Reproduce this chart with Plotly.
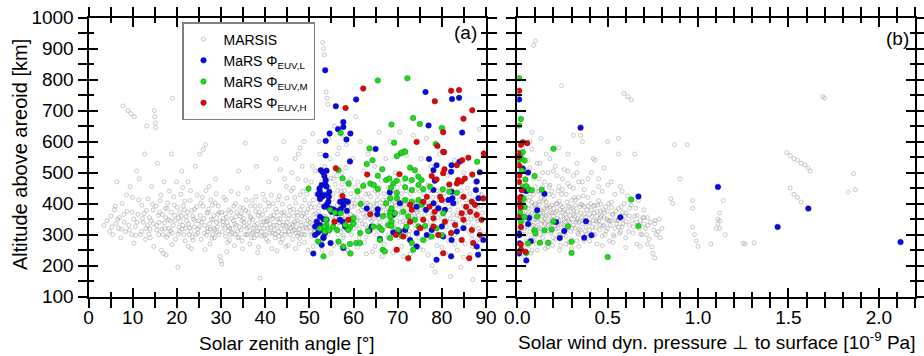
import plotly.graph_objects as go

# ---------------- data ----------------
# MARSIS observations, panel (a): (solar zenith angle [deg], altitude [km])
marsis_a = [
(3.5,330),(4.2,345),(4.8,310),(5.1,360),(5.5,300),(5.9,380),(6.2,335),(6.4,470),(6.8,320),(7.0,355),
(7.3,290),(7.6,400),(7.8,715),(8.1,340),(8.4,310),(8.7,375),(8.9,700),(9.1,330),(9.4,455),(9.6,690),
(9.8,300),(10.0,420),(10.2,350),(10.4,680),(10.6,325),(10.9,505),(11.2,365),(11.5,480),(11.8,300),(12.1,395),
(12.4,340),(12.7,560),(13.0,320),(13.2,650),(13.5,415),(13.8,355),(14.0,290),(14.3,455),(14.6,380),(14.9,700),
(15.0,680),(15.1,660),(15.2,645),(15.4,330),(15.6,530),(15.9,300),(16.2,410),(16.5,250),(16.7,365),(16.9,240),
(17.1,470),(17.3,320),(17.6,235),(17.8,385),(18.0,300),(18.3,440),(18.5,345),(18.8,560),(19.0,740),(19.2,330),
(19.4,395),(19.7,285),(19.9,470),(20.2,195),(20.4,355),(20.6,310),(20.9,430),(21.1,505),(21.4,330),(21.7,380),
(21.9,280),(22.2,345),(22.5,470),(22.8,300),(23.0,410),(23.3,255),(23.6,360),(23.9,325),(24.2,520),(24.5,390),
(24.7,305),(25.0,345),(25.2,560),(25.5,285),(25.8,420),(26.0,575),(26.3,330),(26.5,590),(26.8,370),(27.0,310),
(27.3,455),(27.5,270),(27.8,350),(28.0,395),(28.3,320),(28.5,290),(28.8,480),(29.0,340),(29.3,365),(29.5,300),
(29.8,230),(30.0,215),(30.2,205),(30.5,330),(30.7,420),(31.0,295),(31.2,355),(31.5,275),(31.8,380),(32.0,320),
(32.3,440),(32.5,305),(32.8,345),(33.0,265),(33.3,400),(33.5,330),(33.8,290),(34.0,505),(34.3,360),(34.5,315),
(34.8,280),(35.0,385),(35.2,340),(35.5,595),(35.8,300),(36.0,450),(36.3,325),(36.5,270),(36.8,355),(37.0,410),
(37.3,310),(37.5,290),(37.8,375),(38.0,520),(38.2,335),(38.5,260),(38.8,160),(39.0,350),(39.2,295),(39.5,430),
(39.8,320),(40.0,380),(40.3,285),(40.5,345),(40.8,470),(41.0,305),(41.3,360),(41.5,255),(41.8,400),(42.0,330),
(42.3,290),(42.5,545),(42.8,350),(43.0,310),(43.2,425),(43.5,275),(43.8,370),(44.0,330),(44.2,600),(44.5,300),
(44.8,455),(45.0,340),(45.2,265),(45.5,390),(45.7,320),(46.0,500),(46.2,285),(46.5,360),(46.7,420),(47.0,305),
(47.2,345),(47.5,560),(47.7,270),(48.0,380),(48.2,330),(48.5,440),(48.7,300),(49.0,355),(49.2,475),(49.5,320),
(49.7,250),(50.0,400),(50.2,340),(50.5,295),(50.7,520),(51.0,365),(51.2,310),(51.5,430),(51.7,280),(52.0,350),
(52.2,600),(52.5,330),(52.7,470),(53.0,920),(53.2,900),(53.4,880),(53.6,300),(53.8,760),(54.0,740),(54.2,720),
(54.5,380),(54.7,545),(55.0,320),(55.2,415),(55.5,265),(55.7,650),(56.0,355),(56.2,490),(56.5,300),(56.7,580),
(57.0,340),(57.2,440),(57.5,620),(57.7,290),(58.0,375),(58.2,515),(58.5,330),(58.7,250),(59.0,460),(59.3,365),
(45.3,310),(46.3,330),(47.3,295),(48.3,360),(49.3,335),(50.3,310),(51.3,345),(52.3,395),(53.3,360),(54.3,420),
(55.3,340),(56.3,395),(57.3,360),(58.3,410),(59.5,300),
(59.8,545),(60.0,320),(60.3,400),(60.5,680),(60.8,355),(61.0,470),(61.3,290),(61.5,600),(61.8,380),(62.0,335),
(62.3,505),(62.5,275),(62.8,430),(63.0,360),(63.3,560),(63.5,310),(63.8,395),(64.0,460),(64.3,245),(64.5,350),
(64.8,520),(65.0,380),(65.3,300),(65.5,430),(65.8,630),(66.0,340),(66.3,475),(66.5,230),(66.8,390),(67.0,325),
(67.3,545),(67.5,410),(67.8,290),(68.0,360),(68.3,600),(68.5,440),(68.8,315),(69.0,380),(69.3,255),(69.5,500),
(69.8,345),(70.0,420),(70.3,290),(70.5,630),(70.8,370),(71.0,465),(71.3,230),(71.5,395),(71.8,335),(72.0,555),
(72.3,410),(72.5,300),(72.8,470),(73.0,360),(73.3,265),(73.5,620),(73.8,400),(74.0,330),(74.3,490),(74.5,380),
(74.8,290),(75.0,440),(75.3,545),(75.5,350),(75.8,250),(76.0,400),(76.3,320),(76.5,610),(76.8,460),(77.0,370),
(77.3,290),(77.5,520),(77.8,200),(78.0,420),(78.3,345),(78.5,180),(78.8,480),(79.0,390),(79.3,300),(79.5,560),
(79.8,430),(80.0,260),(80.3,355),(80.5,640),(80.8,405),(81.0,325),(81.3,490),(81.5,280),(81.8,380),(82.0,165),
(82.3,445),(82.5,340),(82.8,540),(83.0,300),(83.3,400),(83.5,250),(83.8,470),(84.0,360),(84.3,195),(84.5,420),
(84.8,320),(85.0,500),(85.3,270),(85.5,385),(85.8,450),(86.0,340),(86.3,235),(86.5,410),(86.8,300),(87.0,155),
(87.3,360),(87.5,470),(87.8,280),(88.0,390),(88.3,320),(88.5,640),(88.8,250),(89.0,430),(89.3,350),(89.6,300),
(5.3,325),(6.6,350),(8.0,365),(9.3,315),(11.0,340),(12.0,310),(13.4,330),(14.2,345),(15.5,315),(16.0,340),
(16.8,300),(17.5,355),(18.2,320),(19.0,305),(19.6,345),(20.5,325),(21.0,360),(21.6,300),(22.0,320),(22.7,335),
(23.2,310),(23.8,350),(24.3,300),(25.1,325),(25.6,340),(26.2,305),(26.9,320),(27.4,335),(28.1,300),(28.6,315),
(29.2,325),(29.7,345),(30.3,310),(30.9,325),(31.4,340),(32.1,300),(32.6,320),(33.1,335),(33.7,310),(34.2,325),
(34.7,345),(35.4,300),(35.9,320),(36.4,340),(37.1,305),(37.6,330),(38.1,300),(38.6,320),(39.1,310),(39.6,340),
(40.1,300),(40.6,320),(41.1,335),(41.6,305),(42.1,315),(42.6,330),(43.1,295),(43.6,320),(44.1,340),(44.6,310),
(45.1,325),(45.6,300),(46.1,335),(46.6,315),(47.1,325),(47.6,305),(48.1,340),(48.6,320),(49.1,300),(49.6,345),
(50.1,325),(50.6,335),(51.1,320),(51.6,300),(52.1,375),(52.6,345),(53.1,320),(53.7,390),(54.1,340),(54.6,310),
(55.1,360),(55.6,380),(56.1,330),(56.6,405),(57.1,310),(57.6,350),(58.1,325),(58.6,370),(59.1,340),(59.6,390),
(60.1,360),(60.6,330),(61.1,375),(61.6,345),(62.1,390),(62.6,355),(63.1,320),(63.6,375),(64.1,345),(64.6,400),
(65.1,360),(65.6,330),(66.1,380),(66.6,355),(67.1,395),(67.6,340),(68.1,375),(68.6,350),(69.1,330),(69.6,395),
(70.1,365),(70.6,340),(71.1,380),(71.6,355),(72.1,325),(72.6,385),(73.1,340),(73.6,370),(74.1,355),(74.6,330),
(75.1,380),(75.6,320),(76.1,365),(76.6,340),(77.1,395),(77.6,330),(78.1,370),(78.6,310),(79.1,355),(79.6,385),
(80.1,330),(80.6,370),(81.1,345),(81.6,390),(82.1,310),(82.6,365),(83.1,340),(83.6,380),(84.1,320),(84.6,355),
(85.1,330),(85.6,370),(86.1,310),(86.6,350),(87.1,325),(87.6,380),(88.1,345),(88.6,310),(89.1,370),
(50.4,470),(51.4,505),(52.4,560),(53.5,520),(54.4,610),(55.4,480),(56.4,560),(57.4,500),(58.4,590),(59.4,480),
(46.4,450),(47.4,480),(48.4,520),(49.4,430),(44.4,480),(43.4,510),(46.8,545),(48.8,600),(50.8,625),(47.9,580),
(6.1,392),(7.4,318),(8.6,428),(9.9,372),(10.7,298),(11.4,412),(12.6,368),(13.7,302),(14.5,398),(15.8,362),
(16.4,428),(17.2,338),(17.9,402),(18.7,372),(19.3,422),(20.1,388),(20.8,342),(21.3,452),(21.8,408),(22.4,372),
(23.1,442),(23.5,292),(24.0,382),(24.6,428),(25.3,362),(25.9,392),(26.6,442),(27.1,372),(27.7,412),(28.4,362),
(28.9,432),(29.4,392),(30.1,372),(30.6,352),(31.1,412),(31.6,312),(32.2,372),(32.9,392),(33.4,358),(33.9,432),
(34.4,388),(35.1,352),(35.7,412),(36.2,372),(36.7,392),(37.2,348),(37.9,422),(38.4,362),(38.9,392),(39.4,365),
(39.9,412),(40.4,352),(40.9,392),(41.4,428),(41.9,362),(42.4,382),(42.9,412),(43.3,352),(43.9,398),(44.3,372),
(44.9,418),(45.4,362),(45.9,442),(46.4,382),(46.9,402),(47.4,362),(47.9,428),(48.4,392),(48.9,412),(49.4,372),
(49.9,452),(50.4,388),(50.9,412),(51.4,368),(51.9,442),(52.4,420),(52.9,455),(53.4,432),(53.9,472),(54.4,452),
(54.9,482),(55.4,432),(55.9,462),(56.4,442),(56.9,422),(57.4,462),(57.9,442),(58.4,472),(58.9,402),(59.4,432),
(59.9,412),(60.4,452),(60.9,422),(61.4,442),(61.9,412),(62.4,462),(62.9,402),(63.4,432),(63.9,422),(64.4,382),
(64.9,442),(65.4,412),(65.9,452),(66.4,402),(66.9,432),(67.4,372),(67.9,452),(68.4,412),(68.9,432),(69.4,402),
(69.9,452),(70.4,392),(70.9,432),(71.4,412),(71.9,442),(72.4,362),(72.9,432),(73.4,402),(73.9,442),(74.4,372),
(74.9,412),(75.4,452),(75.9,432),(76.4,392),(76.9,412),(77.4,442),(77.9,362),(78.4,402),(78.9,442),(79.4,412),
(79.9,372),(80.4,432),(80.9,452),(81.4,412),(81.9,352),(82.4,402),(82.9,432),(83.4,362),(83.9,412),(84.4,442),
(84.9,392),(85.4,412),(85.9,362),(86.4,432),(86.9,392),(87.4,412),(87.9,352),(88.4,432),(88.9,392),(89.4,412),
(10.3,272),(14.8,262),(18.9,268),(22.6,262),(26.4,252),(31.3,245),(34.9,255),(38.3,242),(42.7,248),(44.7,262),
(46.9,255),(48.9,275),(50.9,262),(52.9,250),(54.9,240),(56.9,268),(58.9,245),(60.9,258),(62.9,238),(64.9,262),
(66.9,270),(68.9,242),(70.9,262),(72.9,238),(74.9,258),(76.9,235),(78.9,265),(80.9,240),(82.9,268),(84.9,228),
(86.9,262),(88.9,282),(12.9,285),(17.7,292),(23.7,282),(27.9,288),(31.9,282),(36.9,290),(40.7,278),(43.9,285),
(47.8,288),(52.8,282),(57.8,298),(62.8,292),(67.8,298),(71.8,302),(76.8,288),(81.8,298),(86.8,285),
(12.2,352),(13.1,378),(13.9,318),(14.7,335),(15.3,392),(16.1,372),(16.6,318),(17.4,385),(18.1,348),(18.6,312),
(19.5,362),(20.3,302),(20.7,372),(21.2,318),(21.5,392),(22.1,358),(22.9,322),(23.4,378),(24.1,345),(24.8,318),
(25.4,402),(26.1,352),(26.7,298),(27.2,382),(27.6,318),(28.2,348),(28.7,402),(29.1,308),(29.6,372),(30.4,342),
(31.0,368),(31.7,328),(32.4,352),(33.2,302),(33.6,372),(34.1,292),(34.6,368),(35.3,328),(35.6,378),(36.1,302),
(36.6,358),(37.4,322),(37.7,392),(38.3,312),(38.7,372),(39.3,332),(39.7,298),(40.2,342),(40.7,402),(41.2,322),
(41.7,352),(42.2,302),(42.7,372),(43.2,338),(43.7,302),(44.2,362),(44.7,328),(45.2,352),(45.7,378),(46.2,312),
(46.7,342),(47.2,372),(47.7,318),(48.2,302),(48.7,368),(49.2,322),(49.7,382),(50.2,352),(50.7,302),(51.2,388),
(51.7,322),(52.2,312),(52.7,402),(53.2,338),(53.7,358),(54.2,302),(54.7,392),(55.2,318),(55.7,348),(56.2,372),
(56.7,338),(57.2,392),(57.7,318),(58.2,352),(58.7,388),(59.2,318),(59.7,362),(60.2,392),(60.7,348),(61.2,318),
(61.7,402),(62.2,368),(62.7,332),(63.2,402),(63.7,352),(64.2,318),(64.7,372),(65.2,398),(65.7,352),(66.2,322),
(66.7,412),(67.2,362),(67.7,388),(68.2,328),(68.7,398),(69.2,362),(69.7,318),(70.2,408),(70.7,372),(71.2,342),
(71.7,398),(72.2,368),(72.7,312),(73.2,388),(73.7,348),(74.2,402),(74.7,362),
]

# MARSIS observations, panel (b): (dyn. pressure [1e-9 Pa], altitude [km])
marsis_b = [
(0.02,330),(0.03,300),(0.03,420),(0.04,360),(0.04,510),(0.05,280),(0.05,390),(0.06,340),(0.06,455),(0.07,310),
(0.07,600),(0.08,370),(0.08,250),(0.09,330),(0.09,480),(0.10,295),(0.10,400),(0.09,910),(0.10,925),(0.11,350),
(0.11,530),(0.12,320),(0.12,440),(0.13,275),(0.13,380),(0.14,345),(0.14,500),(0.15,305),(0.15,415),(0.16,360),
(0.16,560),(0.17,330),(0.17,260),(0.18,390),(0.18,460),(0.19,310),(0.19,350),(0.20,425),(0.20,290),(0.21,370),
(0.21,520),(0.22,335),(0.22,400),(0.23,300),(0.23,455),(0.24,360),(0.24,265),(0.25,390),(0.25,480),(0.26,320),
(0.26,350),(0.27,430),(0.27,295),(0.28,375),(0.28,505),(0.29,340),(0.30,410),(0.30,285),(0.31,365),(0.31,450),
(0.32,320),(0.32,395),(0.33,345),(0.33,530),(0.34,300),(0.34,420),(0.35,370),(0.35,620),(0.36,335),(0.36,470),
(0.37,390),(0.37,280),(0.38,355),(0.59,755),(0.39,420),(0.61,745),(0.40,315),(0.63,735),(0.41,380),(0.41,500),
(0.42,345),(0.42,435),(0.43,300),(0.43,395),(0.44,360),(0.44,270),(0.45,410),(0.45,480),(0.46,330),(0.46,375),
(0.47,440),(0.47,295),(0.48,355),(0.48,515),(0.49,390),(0.50,320),(0.50,460),(0.51,345),(0.51,280),(0.52,405),
(0.53,365),(0.53,300),(0.54,430),(0.55,335),(0.56,610),(0.56,385),(0.57,310),(0.57,455),(0.58,350),(0.59,400),
(0.60,290),(0.60,370),(0.61,425),(0.62,330),(0.63,395),(0.64,305),(0.65,360),(0.66,270),(0.67,410),(0.68,345),
(0.69,300),(0.70,380),(0.71,320),(0.72,355),(0.73,285),(0.745,260),(0.75,240),(0.76,225),(0.76,335),(0.77,300),
(0.78,310),(0.79,290),(0.80,320),
(0.01,350),(0.01,400),(0.02,460),(0.03,375),(0.04,320),(0.05,345),(0.05,430),(0.06,385),(0.07,355),(0.07,420),
(0.08,330),(0.08,405),(0.09,365),(0.10,350),(0.11,385),(0.11,315),(0.12,360),(0.12,405),(0.13,335),(0.13,420),
(0.14,375),(0.15,340),(0.15,385),(0.16,320),(0.16,405),(0.17,365),(0.18,335),(0.18,345),(0.19,395),(0.20,360),
(0.21,330),(0.22,375),(0.23,345),(0.24,395),(0.25,335),(0.26,380),(0.27,355),(0.28,325),(0.29,390),(0.30,350),
(0.31,330),(0.32,360),(0.33,375),(0.34,340),(0.35,315),(0.36,395),(0.38,325),(0.40,365),(0.42,300),(0.44,340),
(0.46,355),(0.48,330),(0.50,375),(0.52,345),(0.54,320),(0.56,350),(0.58,325),(0.62,360),(0.66,340),(0.70,335),
(0.05,500),(0.06,540),(0.08,575),(0.09,430),(0.12,480),(0.14,455),(0.17,500),(0.19,440),(0.22,490),(0.25,445),
(0.28,465),(0.31,490),(0.34,470),(0.37,445),(0.02,250),(0.04,230),(0.06,265),(0.09,280),(0.11,250),(0.14,290),
(0.18,275),(0.21,285),(0.24,300),(0.27,270),(0.30,255),(0.33,280),(0.03,580),(0.08,630),(0.13,610),(0.18,545),
(0.23,580),(0.28,560),(0.31,620),(0.36,600),(0.43,540),(0.50,600),(0.65,560),(0.245,780),(0.42,545),(0.56,560),
(0.015,380),(0.025,320),(0.035,440),(0.045,300),(0.055,365),(0.065,410),(0.075,290),(0.085,350),(0.095,395),(0.105,325),
(0.115,440),(0.125,300),(0.135,360),(0.145,410),(0.155,335),(0.165,385),(0.175,430),(0.185,305),(0.195,370),(0.205,340),
(0.215,400),(0.225,320),(0.235,380),(0.245,430),(0.255,300),(0.265,365),(0.275,405),(0.285,345),(0.295,310),(0.305,385),
(0.315,420),(0.325,340),(0.335,305),(0.345,390),(0.355,355),(0.365,425),(0.375,310),(0.385,380),(0.395,340),(0.405,400),
(0.415,325),(0.425,370),(0.435,345),(0.445,395),(0.455,315),(0.465,360),(0.475,380),(0.485,300),(0.495,350),(0.505,400),
(0.515,330),(0.525,365),(0.535,295),(0.545,375),(0.555,345),(0.565,305),(0.575,390),(0.585,335),(0.595,360),(0.615,310),
(0.635,345),(0.655,385),(0.675,320),(0.695,355),(0.715,300),(0.735,340),(0.755,315),(0.785,350),
(0.02,490),(0.045,470),(0.07,515),(0.10,455),(0.125,530),(0.15,470),(0.175,455),(0.20,505),(0.225,440),(0.26,510),
(0.29,455),(0.33,500),(0.39,480),(0.45,455),(0.52,470),(0.58,440),(0.035,265),(0.075,240),(0.105,270),(0.155,255),
(0.195,265),(0.235,250),(0.285,275),(0.34,262),(0.40,280),(0.47,265),(0.53,275),(0.60,258),(0.68,262),(0.72,270),
(0.012,320),(0.022,395),(0.032,345),(0.042,410),(0.052,325),(0.062,372),(0.072,338),(0.082,392),(0.092,312),(0.102,378),
(0.112,342),(0.122,398),(0.132,318),(0.142,368),(0.152,352),(0.162,392),(0.172,312),(0.182,372),(0.192,338),(0.202,385),
(0.212,318),(0.222,352),(0.232,408),(0.242,332),(0.252,372),(0.262,342),(0.272,318),(0.282,392),(0.292,362),(0.302,322),
(0.312,378),(0.322,412),(0.332,352),(0.342,318),(0.352,398),(0.362,345),(0.372,368),(0.382,302),(0.392,392),(0.402,338),
(0.412,358),(0.422,392),(0.432,322),(0.442,375),(0.452,345),(0.462,398),(0.472,328),(0.482,372),(0.492,312),(0.502,345),
(0.522,388),(0.542,348),(0.562,325),(0.582,372),(0.602,342),(0.622,385),(0.642,325),(0.662,362),(0.682,302),(0.702,355),
(0.722,330),(0.762,345),
(0.85,416),(0.86,400),(0.87,590),(0.90,480),(0.94,590),(0.97,385),(0.97,410),(0.97,325),(0.98,300),(0.99,280),
(1.00,262),(1.07,270),(1.10,320),(1.11,335),(1.11,350),(1.12,320),(1.12,345),(1.12,370),(1.14,410),(1.15,300),
(1.25,272),(1.26,270),(1.31,274),(1.49,565),(1.51,555),(1.53,545),(1.55,540),(1.57,530),(1.59,525),(1.61,515),
(1.62,505),(1.51,450),(1.53,430),(1.55,420),(1.57,405),(1.69,745),(1.70,740),(1.83,437),(1.86,497),(1.87,445),
]

# MaRS, low EUV flux (panel a): (SZA, altitude)
mars_L_a = [
(53.6,830),(60.6,736),(56.0,714),(57.7,663),(56.5,640),(57.7,647),(54.6,626),(59.3,626),(58.4,607),(53.7,602),
(65.0,576),(76.3,760),(82.3,737),(83.9,741),(77.0,652),(84.6,629),(53.7,555),(59.2,536),(52.6,508),(53.0,502),
(53.9,506),(53.4,489),(53.7,476),(52.8,460),(53.6,462),(53.9,455),(52.3,449),(52.4,438),(52.9,422),(52.4,415),
(53.5,428),(54.5,438),(54.4,422),(52.0,430),(57.0,406),(57.9,410),(58.7,406),(68.2,436),(54.3,406),(53.9,396),
(53.4,390),(54.5,385),(55.4,382),(55.0,374),(56.0,377),(56.2,369),(57.7,393),(57.1,382),(58.5,377),(63.0,384),
(65.5,382),(65.4,366),(52.4,358),(53.2,350),(53.9,348),(51.7,342),(51.3,326),(52.4,331),(52.8,315),(53.5,305),
(53.2,289),(52.0,307),(51.3,299),(52.8,267),(50.9,239),(53.2,292),(54.8,273),(57.7,257),(57.5,342),(58.1,326),
(56.9,348),(64.1,326),(66.0,286),(63.6,313),(69.0,307),(68.6,376),(77.1,544),(78.8,524),(82.2,524),(84.0,535),
(78.1,508),(82.1,503),(88.6,501),(78.4,474),(87.9,471),(78.1,444),(82.2,438),(82.4,417),(81.5,412),(78.1,401),
(87.7,444),(88.3,417),(70.5,401),(74.3,390),(76.4,380),(79.2,385),(80.7,380),(82.6,401),(69.0,364),(70.4,310),
(71.7,315),(74.3,305),(76.6,299),(77.7,315),(80.3,294),(80.0,326),(82.2,283),(83.4,310),(84.9,321),(87.9,262),
(89.4,283),(78.8,219),(82.1,230),(88.2,235),(72.8,283),(74.3,262),
]

# MaRS, medium EUV flux (panel a)
mars_M_a = [
(65.5,797),(72.2,804),(57.1,628),(68.6,655),(63.6,578),(69.2,596),(73.5,676),(75.0,657),(80.0,644),(78.6,592),
(71.5,568),(70.7,562),(56.6,508),(63.0,528),(64.3,540),(66.5,511),(57.5,482),(65.5,490),(67.4,476),(68.1,481),
(58.9,465),(62.2,457),(63.8,465),(64.6,460),(65.5,447),(49.8,448),(60.9,440),(68.3,417),(67.4,401),(61.6,399),
(54.7,380),(55.8,371),(57.1,369),(68.3,371),(68.3,358),(66.7,360),(53.8,348),(53.9,331),(53.4,326),(52.4,320),
(53.5,310),(54.5,315),(55.4,326),(56.3,315),(56.6,278),(57.7,262),(52.0,278),(53.2,230),(58.1,331),(59.2,324),
(60.0,335),(59.2,348),(60.0,353),(58.8,315),(59.2,270),(60.6,273),(61.5,273),(61.5,305),(63.3,312),(64.5,326),
(65.8,324),(66.4,315),(67.9,331),(68.6,342),(68.3,289),(66.6,251),(67.1,246),(66.0,283),(59.3,239),(69.8,553),
(70.9,564),(71.7,567),(88.0,535),(72.8,516),(73.9,508),(74.7,487),(75.4,476),(73.2,476),(71.7,481),(69.8,474),
(69.0,465),(68.5,451),(69.8,435),(71.7,453),(73.2,444),(74.7,460),(75.8,446),(77.3,455),(80.2,446),(81.7,438),
(83.4,435),(69.8,417),(71.7,412),(73.2,406),(74.7,412),(75.4,396),(68.6,385),(69.4,369),(71.3,374),(72.4,358),
(73.9,348),(74.7,326),(70.1,315),(72.0,326),(76.2,328),(78.8,321),(80.3,369),(80.0,299),(77.7,294),(75.8,283),
(73.2,273),(73.5,251),(70.9,296),(68.6,328),
]

# MaRS, high EUV flux (panel a)
mars_H_a = [
(62.2,771),(58.2,708),(82.1,764),(83.9,766),(78.4,730),(86.9,701),(84.9,674),(80.3,630),(74.3,599),(79.0,586),
(80.5,566),(89.5,562),(56.0,514),(63.1,494),(57.5,425),(55.7,342),(58.8,348),(63.8,366),(80.3,567),(80.6,511),
(83.4,524),(84.6,540),(86.0,548),(70.4,495),(80.3,498),(86.9,494),(77.7,489),(78.8,478),(83.7,476),(84.5,471),
(83.4,465),(85.2,481),(81.7,462),(76.6,422),(79.6,422),(84.9,422),(86.8,406),(85.5,390),(87.5,396),(89.4,417),
(80.0,412),(72.8,396),(75.8,406),(77.2,390),(78.4,374),(73.2,380),(84.5,369),(86.4,374),(87.9,364),(89.0,348),
(84.9,348),(83.0,331),(86.8,315),(88.6,299),(87.1,273),(84.5,283),(82.1,305),(80.7,342),(78.1,353),(78.1,326),
(75.8,348),(72.8,342),(71.3,294),(69.8,251),(72.4,224),(80.3,240),(69.6,299),(86.2,224),(75.1,321),(79.2,299),
]

# MaRS vs. solar wind dynamic pressure (panel b): (pressure, altitude)
mars_L_b = [
(0.01,736),(0.35,645),(0.03,513),(0.06,500),(0.05,441),(0.15,432),(0.02,421),(0.11,379),(0.065,354),(0.06,334),
(0.215,341),(0.26,312),(0.38,343),(0.41,298),(0.37,290),(0.235,289),(0.01,304),(0.01,298),(0.075,279),(0.013,272),
(0.01,239),(0.05,217),(1.11,454),(0.67,423),(0.57,356),(1.61,384),(1.44,325),(2.12,276),
]
mars_M_b = [
(0.01,804),(0.02,673),(0.01,652),(0.20,577),(0.03,566),(0.015,555),(0.02,548),(0.04,539),(0.01,541),(0.025,507),
(0.095,489),(0.045,478),(0.03,454),(0.05,456),(0.065,445),(0.08,443),(0.135,445),(0.035,416),(0.025,400),(0.04,389),
(0.015,373),(0.03,357),(0.02,341),(0.04,357),(0.11,359),(0.20,343),(0.28,327),(0.15,314),(0.19,317),(0.095,314),
(0.10,304),(0.125,274),(0.17,274),(0.06,272),(0.05,241),(0.30,277),(0.30,241),(0.63,413),(0.67,328),(0.50,228),
]
mars_H_b = [
(0.01,764),(0.03,598),(0.055,595),(0.02,590),(0.005,563),(0.005,550),(0.01,523),(0.01,491),(0.01,470),(0.025,443),
(0.013,419),(0.01,402),(0.017,389),(0.005,357),(0.02,325),(0.02,269),(0.02,252),(0.01,245),(0.045,245),
]

series_names = ["MARSIS", "MaRS Φ<sub>EUV,L</sub>", "MaRS Φ<sub>EUV,M</sub>", "MaRS Φ<sub>EUV,H</sub>"]
x_ticks_a = [0, 10, 20, 30, 40, 50, 60, 70, 80, 90]
x_ticks_b = [0.0, 0.5, 1.0, 1.5, 2.0]
y_ticks = [100, 200, 300, 400, 500, 600, 700, 800, 900, 1000]

# ---------------- styling ----------------
FONT = "Liberation Sans, Arial, sans-serif"
W, H = 924, 356
colors = {"L": "#0a0ae6", "M": "#1fdc1f", "H": "#e00a0a"}
edges = {"L": "#000080", "M": "#0a8a0a", "H": "#800000"}

def xs(pairs):
    return [p[0] for p in pairs]

def ys(pairs):
    return [p[1] for p in pairs]

fig = go.Figure()

gray_marker = dict(symbol="circle-open", size=4, color="rgba(150,150,150,0.5)",
                   line=dict(width=1))

fig.add_trace(go.Scatter(x=xs(marsis_a), y=ys(marsis_a), mode="markers", name=series_names[0],
                         marker=gray_marker, xaxis="x", yaxis="y", legendgroup="g0"))
fig.add_trace(go.Scatter(x=xs(marsis_b), y=ys(marsis_b), mode="markers", name=series_names[0],
                         marker=gray_marker, xaxis="x2", yaxis="y2", showlegend=False, legendgroup="g0"))

for key, name, da, db, grp in [("L", series_names[1], mars_L_a, mars_L_b, "g1"),
                                ("M", series_names[2], mars_M_a, mars_M_b, "g2"),
                                ("H", series_names[3], mars_H_a, mars_H_b, "g3")]:
    mk = dict(symbol="circle", size=5.5, color=colors[key], line=dict(width=0.5, color=edges[key]))
    fig.add_trace(go.Scatter(x=xs(da), y=ys(da), mode="markers", name=name, marker=mk,
                             xaxis="x", yaxis="y", legendgroup=grp))
    fig.add_trace(go.Scatter(x=xs(db), y=ys(db), mode="markers", name=name, marker=mk,
                             xaxis="x2", yaxis="y2", showlegend=False, legendgroup=grp))

# empty helper traces so that the overlay axes (inner half of the crossing ticks) get drawn
for xa, ya in [("x3", "y"), ("x", "y3"), ("x4", "y2"), ("x2", "y4")]:
    fig.add_trace(go.Scatter(x=[], y=[], mode="markers", xaxis=xa, yaxis=ya,
                             showlegend=False, hoverinfo="skip"))

# plot-area positions in pixels
ax_l, ax_r = 88.5, 486.0
bx_l, bx_r = 517.3, 915.0
y_top, y_bot = 17.5, 296.7
xd_a = [ax_l / W, ax_r / W]
xd_b = [bx_l / W, bx_r / W]
yd = [1 - y_bot / H, 1 - y_top / H]

tickfont = dict(family=FONT, size=19, color="black")

def axis_common(rng, dtick, minor_dtick, ticks, ticklen, mlen, labels, **kw):
    d = dict(range=rng, autorange=False, dtick=dtick, tick0=0, ticks=ticks, ticklen=ticklen,
             tickwidth=2, tickcolor="black", showline=True, linewidth=2, linecolor="black",
             mirror="allticks", showgrid=False, zeroline=False, showticklabels=labels,
             tickfont=tickfont, fixedrange=True, automargin=False,
             minor=dict(dtick=minor_dtick, tick0=0, ticks=ticks, ticklen=mlen, tickwidth=2,
                        tickcolor="black", showgrid=False))
    d.update(kw)
    return d

layout = dict(
    width=W, height=H,
    margin=dict(l=0, r=0, t=0, b=0, autoexpand=False),
    paper_bgcolor="white", plot_bgcolor="white",
    font=dict(family=FONT, color="black"),
    xaxis=axis_common([0, 90], 10, 5, "outside", 9, 5, True, domain=xd_a, anchor="y",
                      tickvals=x_ticks_a, ticklabelstandoff=-7),
    yaxis=axis_common([100, 1000], 100, 50, "outside", 9, 5, True, domain=yd, anchor="x",
                      tickvals=y_ticks),
    xaxis2=axis_common([0, 2.2], 0.5, 0.1, "outside", 9, 5, True, domain=xd_b, anchor="y2",
                       tickvals=x_ticks_b, tickformat=".1f", ticklabelstandoff=-7),
    yaxis2=axis_common([100, 1000], 100, 50, "outside", 9, 5, False, domain=yd, anchor="x2"),
    xaxis3=axis_common([0, 90], 10, 5, "inside", 9, 5, False, overlaying="x", anchor="y"),
    yaxis3=axis_common([100, 1000], 100, 50, "inside", 9, 5, False, overlaying="y", anchor="x"),
    xaxis4=axis_common([0, 2.2], 0.5, 0.1, "inside", 9, 5, False, overlaying="x2", anchor="y2"),
    yaxis4=axis_common([100, 1000], 100, 50, "inside", 9, 5, False, overlaying="y2", anchor="x2"),
    showlegend=True,
    legend=dict(x=182 / W, y=1 - 22 / H, xanchor="left", yanchor="top",
                bgcolor="white", bordercolor="#808080", borderwidth=1.5,
                font=dict(family=FONT, size=14, color="black"),
                tracegroupgap=0, itemsizing="trace"),
    annotations=[
        dict(text="(a)", x=466 / W, y=1 - 32 / H, xref="paper", yref="paper",
             showarrow=False, font=dict(family=FONT, size=19), xanchor="center", yanchor="middle"),
        dict(text="(b)", x=897 / W, y=1 - 38 / H, xref="paper", yref="paper",
             showarrow=False, font=dict(family=FONT, size=19), xanchor="center", yanchor="middle"),
        dict(text="Altitude above areoid [km]", x=20 / W, y=1 - 155 / H, xref="paper", yref="paper",
             textangle=-90, showarrow=False, font=dict(family=FONT, size=20),
             xanchor="center", yanchor="middle"),
        dict(text="Solar zenith angle [°]", x=287 / W, y=1 - 343 / H, xref="paper", yref="paper",
             showarrow=False, font=dict(family=FONT, size=19), xanchor="center", yanchor="middle"),
        dict(text="Solar wind dyn. pressure ⊥ to surface [10<sup>-9</sup> Pa]", x=716 / W,
             y=1 - 341 / H, xref="paper", yref="paper", showarrow=False,
             font=dict(family=FONT, size=19), xanchor="center", yanchor="middle"),
    ],
)
fig.update_layout(**layout)
fig.write_html("out.html")
